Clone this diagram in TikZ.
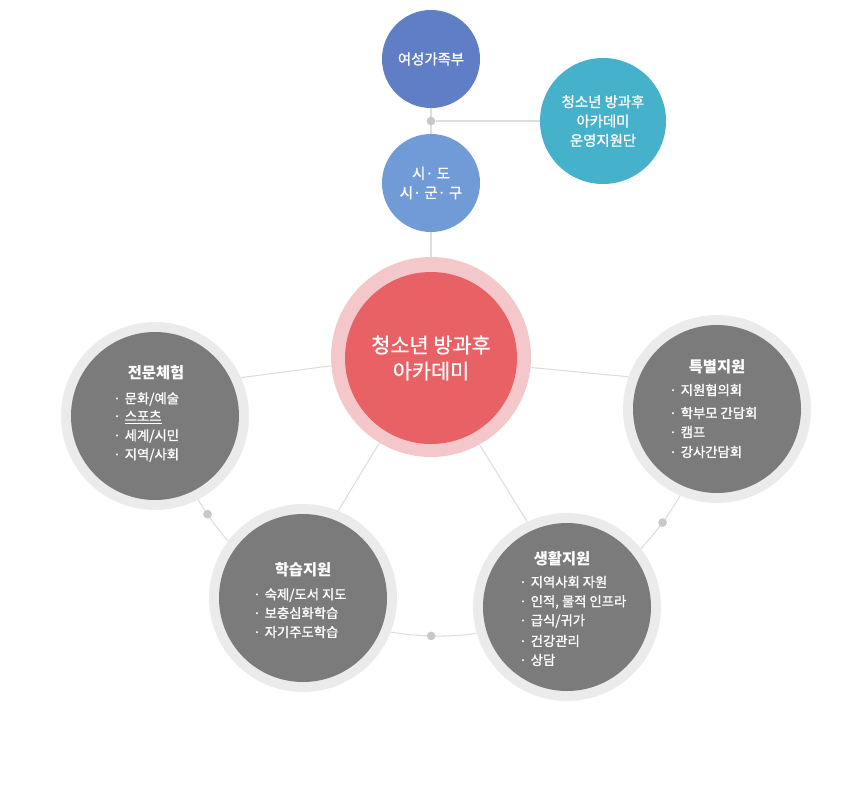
\documentclass[tikz,border=0pt]{standalone}
\usepackage{fontspec}
\setmainfont{Noto Sans CJK KR}
\newfontfamily\krsemi[FakeBold=1.3]{Noto Sans CJK KR}
\newfontfamily\krmid[FakeBold=0.8]{Noto Sans CJK KR}
\usetikzlibrary{backgrounds,calc}
\definecolor{cYeo}{RGB}{96,126,197}
\definecolor{cUn}{RGB}{70,177,203}
\definecolor{cSi}{RGB}{113,155,215}
\definecolor{cRed}{RGB}{232,97,100}
\definecolor{cPink}{RGB}{244,200,202}
\definecolor{cGray}{RGB}{123,123,123}
\definecolor{cRing}{RGB}{235,235,235}
\definecolor{cLine}{RGB}{221,221,221}
\definecolor{cDot}{RGB}{200,200,200}
\newcommand{\bul}{·\hspace{3pt}}
\begin{document}
\begin{tikzpicture}[x=0.75pt,y=-0.75pt,
  topc/.style={circle,inner sep=0pt,text=white,align=center,font=\krsemi\fontsize{10.8}{14.5}\selectfont},
  ring/.style={circle,inner sep=0pt,fill=cRing,minimum size=141pt},
  core/.style={circle,inner sep=0pt,fill=cGray,minimum size=126pt},
  ttl/.style={text=white,font=\bfseries\fontsize{11.5}{13}\selectfont,inner sep=0pt},
  itm/.style={text=white,font=\krsemi\fontsize{10}{12}\selectfont,inner sep=0pt,anchor=west},
  conn/.style={draw=cLine,line width=0.8pt},
  dotc/.style={circle,fill=cDot,inner sep=0pt,minimum size=6.5pt}]
\useasboundingbox (0,0) rectangle (860,789);
% top circles
\node[topc,fill=cYeo,minimum size=73.5pt] (yg) at (431,59) {여성가족부};
\node[topc,fill=cUn,minimum size=94.5pt] (uy) at (603,121) {청소년 방과후\\아카데미\\운영지원단};
\node[topc,fill=cSi,minimum size=73.5pt] (sd) at (431,183) {시· 도\\시· 군· 구};
\node[dotc] (td) at (431,121) {};
% centre
\node[circle,inner sep=0pt,fill=cPink,minimum size=150pt] (ctrO) at (431,357) {};
\node[circle,inner sep=0pt,fill=cRed,minimum size=129pt,text=white,align=center,
  font=\krmid\fontsize{15.6}{19.5}\selectfont] (ctr) at (431,358) {청소년 방과후\\아카데미};
% satellites
\node[ring] (jmO) at (155,416) {};
\node[core] (jm) at (155,416) {};
\node[ring] (tbO) at (717,409) {};
\node[core] (tb) at (717,409) {};
\node[ring] (hsO) at (303,598) {};
\node[core] (hs) at (303,598) {};
\node[ring] (shO) at (567,607) {};
\node[core] (sh) at (567,607) {};
% texts
\node[ttl] (jmT) at (156,373) {전문체험};
\node[itm] (jm1) at (113,399) {\bul 문화/예술};
\node[itm] (jm2) at (113,417) {\bul \underline{스포츠}};
\node[itm] (jm3) at (113,436) {\bul 세계/시민};
\node[itm] (jm4) at (113,455) {\bul 지역/사회};
\node[ttl] (tbT) at (717,367) {특별지원};
\node[itm] (tb1) at (669,390) {\bul 지원협의회};
\node[itm] (tb2) at (669,413) {\bul 학부모 간담회};
\node[itm] (tb3) at (669,432) {\bul 캠프};
\node[itm] (tb4) at (669,452) {\bul 강사간담회};
\node[ttl] (hsT) at (303,570) {학습지원};
\node[itm] (hs1) at (253,595) {\bul 숙제/도서 지도};
\node[itm] (hs2) at (253,613) {\bul 보충심화학습};
\node[itm] (hs3) at (253,632) {\bul 자기주도학습};
\node[ttl] (shT) at (562,559) {생활지원};
\node[itm] (sh1) at (519,582) {\bul 지역사회 자원};
\node[itm] (sh2) at (519,602) {\bul 인적, 물적 인프라};
\node[itm] (sh3) at (519,621) {\bul 급식/귀가};
\node[itm] (sh4) at (519,641) {\bul 건강관리};
\node[itm] (sh5) at (519,660) {\bul 상담};
% connectors
\begin{pgfonlayer}{background}
\coordinate (arcC) at (438,357);
\draw[conn] ($(arcC)+(168:279)$) arc (168:10:279);
\node[dotc] (d1) at ($(arcC)+(145.7:279)$) {};
\node[dotc] (d2) at ($(arcC)+(91.4:279)$) {};
\node[dotc] (d3) at ($(arcC)+(36.4:279)$) {};
\draw[conn] (yg.south) -- (sd.north);
\draw[conn] (td) -- (uy.west);
\draw[conn] (sd.south) -- (ctrO.north);
\draw[conn] (ctrO.185.7) -- (jmO.24);
\draw[conn] (ctrO.-6.3) -- (tbO.160.8);
\draw[conn] (ctrO.239.2) -- (hsO.68);
\draw[conn] (ctrO.299.8) -- (shO.115.2);
\end{pgfonlayer}
\end{tikzpicture}
\end{document}
